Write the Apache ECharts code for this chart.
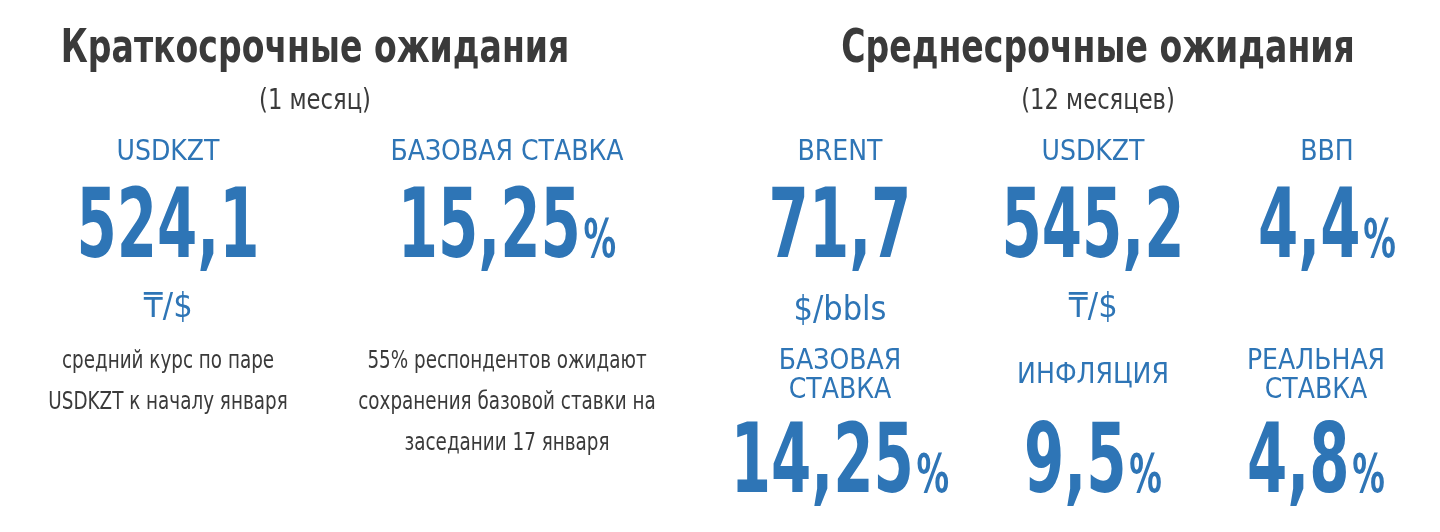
<!DOCTYPE html>
<html><head><meta charset="utf-8">
<script src="https://cdn.jsdelivr.net/npm/echarts@6/dist/echarts.min.js"></script>
<style>html,body{margin:0;background:#fff}#c{width:1440px;height:532px}</style>
</head><body><div id="c"></div>
<script>
const sectionTitles = ['Краткосрочные ожидания', 'Среднесрочные ожидания'];
const sectionSubtitles = ['(1 месяц)', '(12 месяцев)'];
const labels = ['USDKZT', 'БАЗОВАЯ СТАВКА', 'BRENT', 'USDKZT', 'ВВП', 'БАЗОВАЯ\nСТАВКА', 'ИНФЛЯЦИЯ', 'РЕАЛЬНАЯ\nСТАВКА'];
const values = ['524,1', '15,25', '71,7', '545,2', '4,4', '14,25', '9,5', '4,8'];
const units = ['₸/$', '%', '$/bbls', '₸/$', '%', '%', '%', '%'];
const notes = ['средний курс по паре\nUSDKZT к началу января', '55% респондентов ожидают\nсохранения базовой ставки на\nзаседании 17 января', '', '', '', '', '', ''];

const F = '"DejaVu Sans Condensed","Liberation Sans Narrow",sans-serif';
const BLUE = '#2e75b6', DARK = '#3a3a3a';
const titleX = [315, 1098];
const cx = [168, 507, 840, 1093, 1327, 840, 1093, 1316];
const labelY = [153, 153, 153, 153, 153, 376, 376, 376];
const valueY = [232, 232, 232, 232, 232, 467, 467, 467];
const g = [];
function txt(x, y, sx, style) {
  g.push({type:'text', x:x, y:y, scaleX:sx, style:Object.assign({x:0, y:0, align:'center', verticalAlign:'middle'}, style)});
}
sectionTitles.forEach((t, i) => {
  txt(titleX[i], 50, 0.8, {text:t, font:'bold 46px '+F, fill:DARK});
  txt(titleX[i], 102, 0.9, {text:sectionSubtitles[i], font:'28px '+F, fill:DARK});
});
labels.forEach((l, i) => {
  txt(cx[i], labelY[i], 1.0, {text:l, font:'28px '+F, fill:BLUE, lineHeight:29});
  const pct = units[i] === '%';
  txt(cx[i], valueY[i], 0.67, {
    text: pct ? '{v|'+values[i]+'}{p|%}' : '{v|'+values[i]+'}',
    rich:{v:{font:'bold 96px '+F, fill:BLUE, verticalAlign:'bottom'}, p:{font:'bold 54px '+F, fill:BLUE, verticalAlign:'bottom', padding:[0,0,10,4]}}
  });
  if (!pct) txt(cx[i], i===2?311:308, 1.0, {text:units[i], font:'34px '+F, fill:BLUE});
  if (notes[i]) {
    const n = notes[i].split('\n').length;
    txt(cx[i], 362 + (n-1)*20.5, 0.85, {text:notes[i], font:'24px '+F, fill:DARK, lineHeight:41});
  }
});
const ch = echarts.init(document.getElementById('c'));
ch.setOption({graphic:g});
</script></body></html>
